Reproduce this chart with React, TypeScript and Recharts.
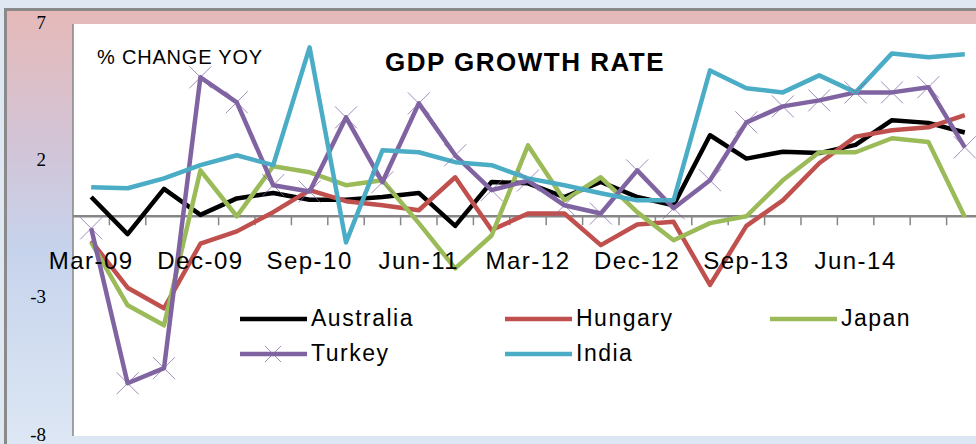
import React from 'react';
import { LineChart, Line, XAxis, YAxis, CartesianGrid, ReferenceLine, ReferenceDot, Legend } from 'recharts';

// quarterly GDP growth, % change yoy
const quarters = [
  'Mar-09', 'Jun-09', 'Sep-09', 'Dec-09', 'Mar-10', 'Jun-10', 'Sep-10', 'Dec-10',
  'Mar-11', 'Jun-11', 'Sep-11', 'Dec-11', 'Mar-12', 'Jun-12', 'Sep-12', 'Dec-12',
  'Mar-13', 'Jun-13', 'Sep-13', 'Dec-13', 'Mar-14', 'Jun-14', 'Sep-14', 'Dec-14', 'Mar-15'
];
const axisLabels = ['Mar-09', 'Dec-09', 'Sep-10', 'Jun-11', 'Mar-12', 'Dec-12', 'Sep-13', 'Jun-14'];
const yTicks = [-8, -3, 2, 7];

const australia = [0.7, -0.65, 1.0, 0.05, 0.65, 0.85, 0.6, 0.6, 0.7, 0.85, -0.35, 1.25, 1.2, 0.7, 1.25, 0.7, 0.4, 2.95, 2.1, 2.35, 2.3, 2.6, 3.5, 3.4, 3.05];
const hungary = [-0.9, -2.6, -3.35, -1.0, -0.55, 0.15, 0.95, 0.55, 0.4, 0.22, 1.42, -0.5, 0.1, 0.1, -1.05, -0.3, -0.2, -2.5, -0.35, 0.58, 1.93, 2.9, 3.13, 3.24, 3.68];
const japan = [-0.95, -3.24, -3.97, 1.67, 0.0, 1.82, 1.6, 1.13, 1.31, -0.25, -1.9, -0.7, 2.58, 0.58, 1.42, 0.15, -0.87, -0.25, 0.0, 1.31, 2.33, 2.33, 2.84, 2.7, -0.03];
const turkey = [-0.44, -6.08, -5.53, 5.06, 4.15, 1.13, 0.9, 3.6, 1.24, 4.11, 2.22, 0.95, 1.3, 0.4, 0.1, 1.67, 0.29, 1.31, 3.42, 4.0, 4.22, 4.51, 4.51, 4.7, 2.51];
const india = [1.06, 1.02, 1.38, 1.86, 2.22, 1.86, 6.15, -0.95, 2.4, 2.33, 1.97, 1.86, 1.38, 1.13, 0.84, 0.58, 0.58, 5.31, 4.66, 4.51, 5.13, 4.51, 5.93, 5.79, 5.9];

const seriesKeys = ['australia', 'hungary', 'japan', 'turkey', 'india'];
const seriesNames = ['Australia', 'Hungary', 'Japan', 'Turkey', 'India'];
const seriesColors = ['#000000', '#c0504d', '#9bbb59', '#8064a2', '#4bacc6'];
const seriesValues = [australia, hungary, japan, turkey, india];

const chartData = quarters.map((q, i) => {
  const row: Record<string, any> = { q };
  seriesKeys.forEach((k, s) => {
    row[k] = seriesValues[s][i];
  });
  return row;
});

document.body.style.margin = '0';

const SANS = '"Liberation Sans", Arial, sans-serif';
const AXIS_GRAY = '#868686';

// thin X marker used by the Turkey series
const CrossDot = (props: any) => {
  const { cx, cy, index } = props;
  if (cx == null || cy == null) return null;
  const h = 11;
  return (
    <g key={`x-${index}`} stroke="#8064a2" strokeWidth={1} strokeOpacity={0.75}>
      <line x1={cx - h} y1={cy - h} x2={cx + h} y2={cy + h} />
      <line x1={cx - h} y1={cy + h} x2={cx + h} y2={cy - h} />
    </g>
  );
};

// horizontal axis crossing at zero, with tick marks between categories
const ZeroAxis = (props: any) => {
  const { x1, x2, y1 } = props;
  const n = quarters.length;
  const step = (x2 - x1) / n;
  return (
    <g>
      <line x1={x1} y1={y1} x2={x2} y2={y1} stroke={AXIS_GRAY} strokeWidth={2.5} />
      {quarters.map((q, k) => (
        <line key={q} x1={x1 + step * (k + 1)} y1={y1} x2={x1 + step * (k + 1)} y2={y1 + 9} stroke={AXIS_GRAY} strokeWidth={1.5} />
      ))}
    </g>
  );
};

const LegendBox = () => (
  <div style={{ display: 'grid', gridTemplateColumns: '265px 265px 265px', fontFamily: SANS, fontSize: 23, letterSpacing: 1.5, color: '#000' }}>
    {seriesNames.map((name, s) => (
      <div key={name} style={{ display: 'flex', alignItems: 'center', height: 35 }}>
        <svg width={67} height={24} style={{ marginRight: 4 }}>
          <line x1={0} y1={12} x2={67} y2={12} stroke={seriesColors[s]} strokeWidth={4.5} />
          {name === 'Turkey' && (
            <g stroke="#8064a2" strokeWidth={1} strokeOpacity={0.75}>
              <line x1={25} y1={4} x2={41} y2={20} />
              <line x1={25} y1={20} x2={41} y2={4} />
            </g>
          )}
        </svg>
        <span style={{ lineHeight: '35px' }}>{name}</span>
      </div>
    ))}
  </div>
);

const App: React.FC = () => {
  return (
    <div style={{ position: 'relative', width: 976, height: 444, overflow: 'hidden', background: '#dfe7f3' }}>
      <div
        style={{
          position: 'absolute', left: 4, top: 8, right: 0, bottom: 0,
          borderLeft: `3px solid #8a8a8a`, borderTop: `3px solid #8a8a8a`,
          background: 'linear-gradient(to bottom, #e6b9b8 0%, #d3c4d6 30%, #c6d3ec 55%, #dde7f4 100%)'
        }}
      />
      <div style={{ position: 'absolute', left: 0, top: 0 }}>
        <LineChart width={990} height={444} data={chartData} margin={{ top: 24, right: 7, bottom: 8, left: 0 }}>
          <CartesianGrid horizontal={false} vertical={false} fill="#ffffff" />
          <XAxis dataKey="q" scale="band" hide />
          <YAxis
            domain={[-8, 7]}
            ticks={yTicks}
            interval={0}
            width={73}
            tickLine={false}
            tickSize={0}
            tickMargin={27}
            axisLine={{ stroke: AXIS_GRAY, strokeWidth: 1.5 }}
            tick={{ fill: '#000', fontSize: 19, dy: -2, fontFamily: '"Liberation Serif", "Times New Roman", serif' }}
          />
          <ReferenceLine y={0} shape={ZeroAxis} />
          {axisLabels.map((q) => (
            <ReferenceDot
              key={q}
              x={q}
              y={0}
              r={0}
              stroke="none"
              fill="none"
              label={{ value: q, position: 'bottom', offset: 36, fill: '#000', fontSize: 24, fontFamily: SANS, letterSpacing: 1.5 }}
            />
          ))}
          {seriesKeys.map((k, s) => (
            <Line
              key={k}
              type="linear"
              dataKey={k}
              name={seriesNames[s]}
              stroke={seriesColors[s]}
              strokeWidth={4.5}
              strokeLinejoin="round"
              dot={k === 'turkey' ? CrossDot : false}
              activeDot={false}
              isAnimationActive={false}
            />
          ))}
          <Legend
            layout="horizontal"
            verticalAlign="middle"
            content={() => <LegendBox />}
            wrapperStyle={{ left: 240, top: 301, width: 800, height: 70 }}
          />
        </LineChart>
      </div>
      <div style={{ position: 'absolute', left: 97, top: 47, fontFamily: SANS, fontSize: 20, letterSpacing: 0.8, lineHeight: 1, color: '#000', whiteSpace: 'nowrap' }}>
        % CHANGE YOY
      </div>
      <div style={{ position: 'absolute', left: 385, top: 49, fontFamily: SANS, fontSize: 26, fontWeight: 700, letterSpacing: 1.5, lineHeight: 1, color: '#000', whiteSpace: 'nowrap' }}>
        GDP GROWTH RATE
      </div>
    </div>
  );
};

export default App;
